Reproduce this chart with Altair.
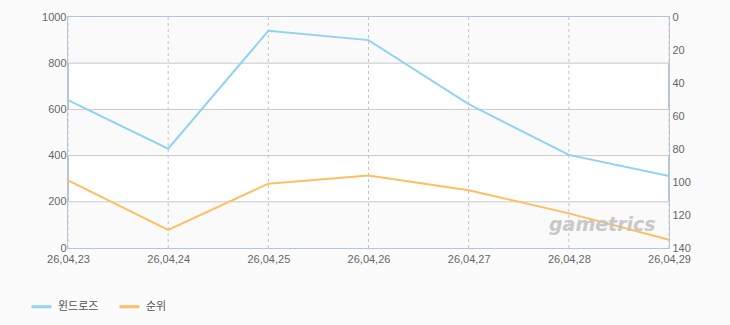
import altair as alt
import pandas as pd

dates = ["26,04,23", "26,04,24", "26,04,25", "26,04,26", "26,04,27", "26,04,28", "26,04,29"]
windrose = [640, 430, 940, 900, 623, 403, 312]
rank = [99, 129, 101, 96, 105, 119, 135]
series_names = ["윈드로즈", "순위"]
series_colors = ["#92d2f2", "#fdbf62"]
left_ticks = [0, 200, 400, 600, 800, 1000]
right_ticks = [0, 20, 40, 60, 80, 100, 120, 140]
band_lo = [0, 400, 800]
band_hi = [200, 600, 1000]
grid_vals = [200, 400, 600, 800]

FONT = "Liberation Sans"

df = pd.DataFrame({
    "date": dates * 2,
    "series": [series_names[0]] * len(dates) + [series_names[1]] * len(dates),
    "value": windrose + rank,
})
bands = pd.DataFrame({"lo": band_lo, "hi": band_hi})
hgrid = pd.DataFrame({"v": grid_vals})
vgrid = pd.DataFrame({"date": dates})

xscale = alt.Scale(type="point", padding=0, domain=dates)
xaxis = alt.Axis(title=None, labelAngle=0, ticks=False, domain=False, grid=False,
                 labelPadding=5, labelFont=FONT, labelFontSize=11, labelColor="#666666")

band_layer = alt.Chart(bands).mark_rect(color="#fafafa").encode(
    x=alt.value(0), x2=alt.value("width"),
    y=alt.Y("lo:Q", scale=alt.Scale(domain=[0, 1000]), axis=None),
    y2="hi:Q",
)
hgrid_layer = alt.Chart(hgrid).mark_rule(color="#cacaca", strokeWidth=1).encode(
    y=alt.Y("v:Q", scale=alt.Scale(domain=[0, 1000]), axis=None),
)
vgrid_layer = alt.Chart(vgrid).mark_rule(color="#c4c4c4", strokeWidth=1, strokeDash=[3, 3]).encode(
    x=alt.X("date:N", scale=xscale, axis=xaxis, sort=dates),
)

color = alt.Color("series:N", scale=alt.Scale(domain=series_names, range=series_colors),
                  legend=alt.Legend(title=None, orient="none", direction="horizontal",
                                    legendX=-38, legendY=278, symbolType="stroke",
                                    symbolStrokeWidth=3, symbolSize=400, labelOffset=5,
                                    columnPadding=14, padding=0,
                                    labelFont="Noto Sans CJK KR", labelFontSize=11,
                                    labelColor="#555555"))

blue = alt.Chart(df).transform_filter(alt.datum.series == series_names[0]).mark_line(strokeWidth=2).encode(
    x=alt.X("date:N", scale=xscale, axis=xaxis, sort=dates),
    y=alt.Y("value:Q", scale=alt.Scale(domain=[0, 1000]),
            axis=alt.Axis(title=None, orient="left", values=left_ticks, format="d", ticks=False,
                          domain=False, grid=False, labelPadding=2, labelFont=FONT, labelFontSize=11,
                          labelColor="#666666")),
    color=color,
)
orange = alt.Chart(df).transform_filter(alt.datum.series == series_names[1]).mark_line(strokeWidth=2).encode(
    x=alt.X("date:N", scale=xscale, axis=xaxis, sort=dates),
    y=alt.Y("value:Q", scale=alt.Scale(domain=[0, 140], reverse=True),
            axis=alt.Axis(title=None, orient="right", values=right_ticks, format="d", ticks=False,
                          domain=False, grid=False, labelPadding=3, labelFont=FONT, labelFontSize=11,
                          labelColor="#666666")),
    color=color,
)

watermark = alt.Chart(pd.DataFrame({"t": ["gametrics"]})).mark_text(
    font="DejaVu Sans", fontSize=19, fontStyle="italic", fontWeight="bold",
    color="#c4c4c4", align="left", baseline="alphabetic", opacity=0.9,
).encode(x=alt.value(481), y=alt.value(214), text="t:N")

chart = alt.layer(band_layer, hgrid_layer, vgrid_layer, blue, orange, watermark).resolve_scale(
    y="independent"
).properties(
    width=601, height=231,
    autosize=alt.AutoSizeParams(type="none"),
    padding={"left": 68, "top": 17, "right": 61, "bottom": 77},
    background="#fbfbfb",
).configure_view(
    stroke="#b4c6d9", strokeWidth=2, fill="#ffffff",
)

chart.save("out.html", embed_options={"renderer": "svg", "actions": False})
